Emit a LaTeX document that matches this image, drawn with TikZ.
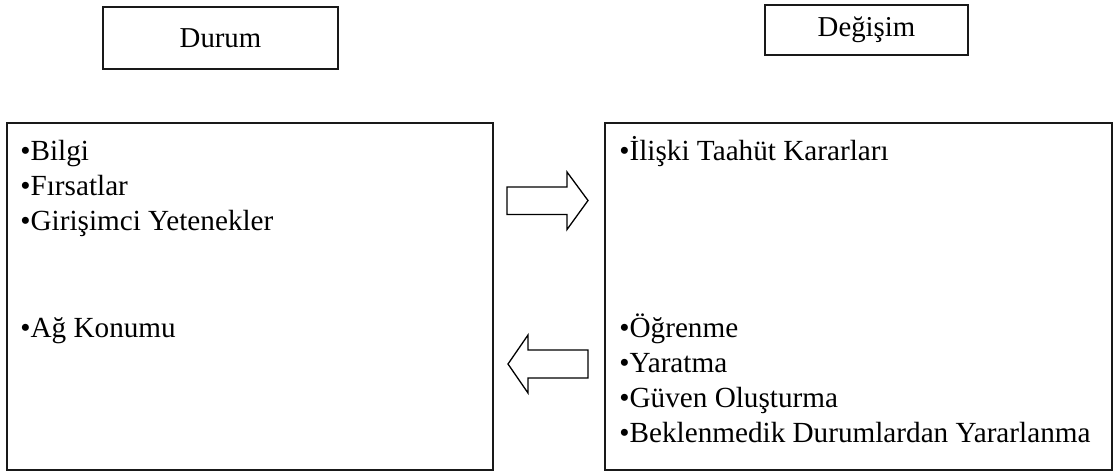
\documentclass[tikz,border=0pt]{standalone}
\usepackage{fontspec}
\setmainfont{Liberation Serif}
\begin{document}
\begin{tikzpicture}[x=0.5pt,y=-0.5pt,
  frame/.style={draw=black!90, line width=1pt, inner sep=0pt},
  item/.style={anchor=base west, inner sep=0pt, font=\fontsize{14.6pt}{17pt}\selectfont},
  title/.style={font=\fontsize{14.4pt}{17pt}\selectfont},
  blockarrow/.style={draw=black, line width=0.65pt, fill=white, line join=miter}]
\useasboundingbox (0,0) rectangle (1119,472);

% header boxes
\node[frame, minimum width=117.5pt, minimum height=31pt] (durum) at (220.5,38) {};
\node[title] (durumlbl) at (durum.center) {Durum};
\node[frame, minimum width=101.5pt, minimum height=25pt] (degisim) at (866.5,30) {};
\node[title] (degisimlbl) at (degisim.center) {Değişim};

% main boxes
\node[frame, minimum width=243pt, minimum height=173.5pt] (left) at (250,296.5) {};
\node[frame, minimum width=253.5pt, minimum height=173.5pt] (right) at (858.5,296.5) {};

% left box items
\foreach \t [count=\i] in {Bilgi, Fırsatlar, Girişimci Yetenekler}
  \node[item] (l\i) at (20,{160+35*(\i-1)}) {•\t};
\node[item] (l4) at (20,337) {•Ağ Konumu};

% right box items
\node[item] (r0) at (619,160) {•İlişki Taahüt Kararları};
\foreach \t [count=\i] in {Öğrenme, Yaratma, Güven Oluşturma, Beklenmedik Durumlardan Yararlanma}
  \node[item] (r\i) at (619,{337+35*(\i-1)}) {•\t};

% block arrows between the boxes
\coordinate (fwd) at (507,200.5);
\draw[blockarrow] (fwd) ++(0,-13.5) -- ++(60,0) -- ++(0,-15) -- ++(21,28.5)
  -- ++(-21,29) -- ++(0,-15) -- ++(-60,0) -- cycle;
\coordinate (back) at (508,364);
\draw[blockarrow] (back) -- ++(20,-29) -- ++(0,15) -- ++(60,0) -- ++(0,28)
  -- ++(-60,0) -- ++(0,15) -- cycle;
\end{tikzpicture}
\end{document}
